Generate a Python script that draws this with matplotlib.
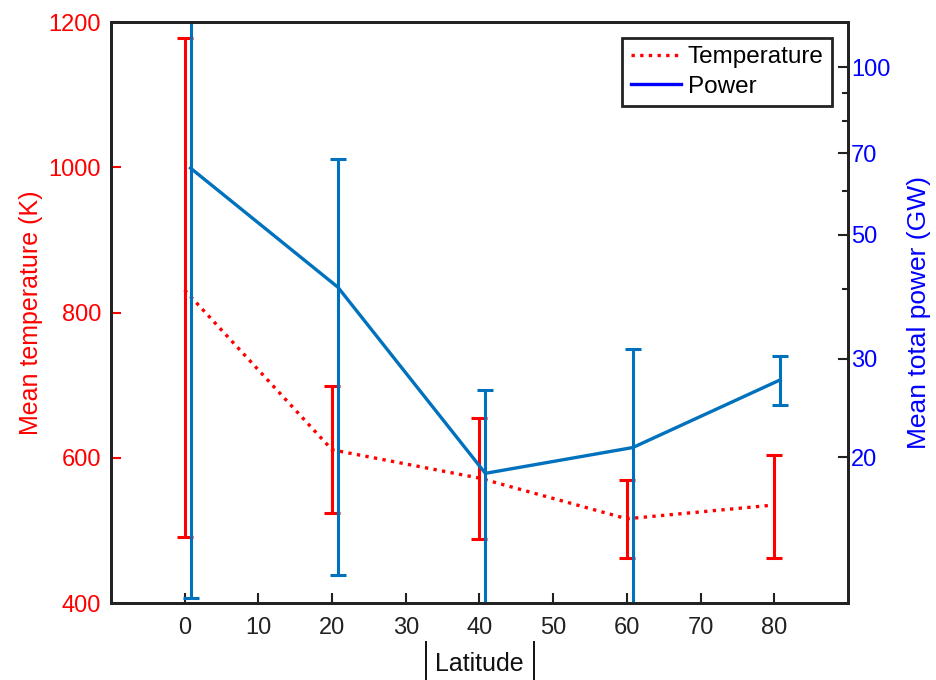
import matplotlib
matplotlib.use("Agg")
import matplotlib.pyplot as plt
from matplotlib.lines import Line2D
from matplotlib.ticker import FixedLocator, NullFormatter, FixedFormatter
import numpy as np

plt.rcParams['font.family'] = ['Liberation Sans', 'DejaVu Sans']

latitude = [0, 20, 40, 60, 80]
temp_mean = [831, 611, 572, 516, 535]
temp_upper = [1178, 699, 655, 569, 604]
temp_lower = [491, 524, 488, 462, 462]

power_offset = 0.8
power_mean = [65.9, 40.3, 18.7, 20.8, 27.5]
power_upper = [135.0, 68.4, 26.4, 31.2, 30.3]
power_lower = [11.2, 12.3, 9.0, 9.0, 24.8]

temp_color = '#FF0000'
power_color = '#0072BD'
right_label_color = '#0000FF'

fig = plt.figure(figsize=(9.36, 6.8), dpi=100)
ax = fig.add_axes([0.1185, 0.1132, 0.7875, 0.8544])
ax2 = ax.twinx()

x = np.array(latitude, dtype=float)
tm = np.array(temp_mean)
terr = [tm - np.array(temp_lower), np.array(temp_upper) - tm]
ax.errorbar(x, tm, yerr=terr, color=temp_color, linestyle=(0, (1, 1.6)), linewidth=2.4,
            capsize=6, elinewidth=2.2, capthick=2.2)
ax.set_ylim(400, 1200)
ax.set_xlim(-10, 90)
ax.set_xticks(np.arange(0, 81, 10))
ax.set_yticks([400, 600, 800, 1000, 1200])
ax.tick_params(axis='y', colors=temp_color, labelsize=17, direction='in', length=7, width=1.5, labelcolor=temp_color, pad=7)
ax.tick_params(axis='x', labelsize=17, direction='in', length=7, width=1.5, colors='#222222', labelcolor='#222222', pad=10)
ax.set_ylabel('Mean temperature (K)', color=temp_color, fontsize=18, labelpad=4)

xp = x + power_offset
pm = np.array(power_mean)
perr = [pm - np.array(power_lower), np.array(power_upper) - pm]
ax2.errorbar(xp, pm, yerr=perr, color=power_color, linestyle='-', linewidth=2.4,
             capsize=6, elinewidth=2.2, capthick=2.2)
ax2.set_yscale('log')
ax2.set_ylim(10.95, 120.4)
major = [20, 30, 50, 70, 100]
minor = [40, 60, 80, 90]
ax2.yaxis.set_major_locator(FixedLocator(major))
ax2.yaxis.set_major_formatter(FixedFormatter([str(v) for v in major]))
ax2.yaxis.set_minor_locator(FixedLocator(minor))
ax2.yaxis.set_minor_formatter(NullFormatter())
ax2.tick_params(axis='y', which='major', colors='#222222', labelcolor=right_label_color, labelsize=17, direction='in', length=7, width=1.5, pad=2)
ax2.tick_params(axis='y', which='minor', colors='#222222', direction='in', length=4, width=1.5)
ax2.set_ylabel('Mean total power (GW)', color=right_label_color, fontsize=19, labelpad=12)

for a in (ax, ax2):
    for s in a.spines.values():
        s.set_linewidth(2)
        s.set_color('#222222')

# x label with tall absolute-value bars
cx = 0.1185 + 0.7875 / 2
fig.text(cx, 0.024, 'Latitude', ha='center', va='center', fontsize=18, color='#111111')
for bx in (426 / 936, 534 / 936):
    fig.add_artist(Line2D([bx, bx], [0.0, 0.0559], transform=fig.transFigure,
                          color='#111111', linewidth=1.4))

handles = [Line2D([0], [0], color=temp_color, linestyle=(0, (1, 1.6)), linewidth=2.4),
           Line2D([0], [0], color=right_label_color, linestyle='-', linewidth=2.4)]
leg = ax2.legend(handles, ['Temperature', 'Power'], loc='upper right', fontsize=17.5,
                 frameon=True, fancybox=False, edgecolor='#222222', framealpha=1,
                 handlelength=2.05, handletextpad=0.3, borderpad=0.35, labelspacing=0.3,
                 borderaxespad=0.65)
leg.get_frame().set_linewidth(2)

fig.savefig('out.png', dpi=100)
